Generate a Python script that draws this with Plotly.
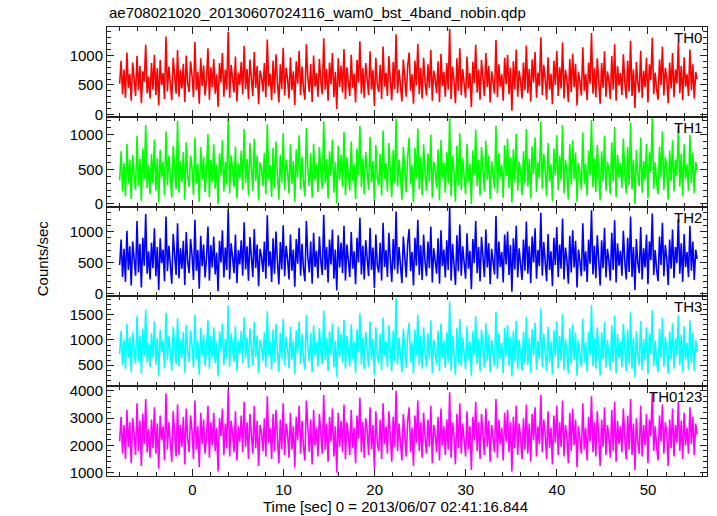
import numpy as np
import plotly.graph_objects as go
from plotly.subplots import make_subplots

TITLE = "ae708021020_20130607024116_wam0_bst_4band_nobin.qdp"
XLABEL = "Time [sec] 0 = 2013/06/07 02:41:16.844"
YLABEL = "Counts/sec"
T_START, T_END = -8.0, 55.4

th0 = [520, 910, 340, 760, 280, 1050, 450, 690, 230, 880, 600, 310, 990, 410, 820, 190, 730, 560, 1180, 360,
       640, 270, 870, 420, 1010, 330, 780, 150, 920, 500, 700, 260, 1320, 390, 810, 470, 240, 960, 580, 350,
       1090, 300, 750, 440, 860, 210, 1000, 530, 380, 900, 660, 290, 1230, 410, 720, 180, 950, 480, 830, 320,
       590, 1120, 250, 800, 460, 940, 350, 680, 130, 870, 540, 1040, 300, 760, 420, 1400, 280, 840, 610, 370,
       980, 220, 710, 500, 890, 340, 1160, 430, 770, 260, 930, 570, 310, 1060, 450, 820, 170, 740, 630, 390,
       870, 290, 1270, 480, 690, 240, 910, 360, 1020, 550, 200, 850, 430, 1130, 320, 790, 600, 270, 970, 410,
       730, 160, 900, 520, 1080, 330, 810, 440, 250, 1190, 620, 380, 860, 210, 1000, 470, 700, 300, 940, 560,
       340, 1290, 420, 770, 230, 880, 510, 1040, 290, 720, 90, 950, 460, 830, 370, 1110, 260, 800, 590, 310,
       1010, 450, 690, 200, 920, 540, 1240, 350, 780, 280, 870, 640, 330, 1070, 420, 750, 140, 960, 500, 380,
       840, 260, 1150, 470, 710, 310, 990, 580, 240, 890, 430, 1360, 360, 760, 520, 220, 930, 610, 300, 820,
       1050, 400, 680, 180, 910, 490, 1200, 340, 790, 270, 960, 550, 320, 850, 450, 1090, 230, 740, 600, 360,
       900, 210, 1030, 480, 720, 300, 870, 420, 1450, 260, 810, 570, 190, 950, 400, 1120, 330, 770, 510, 280,
       980, 440, 700, 120, 890, 530, 1180, 370, 760, 250, 920, 620, 310, 1040, 460, 820, 200, 730, 580, 350,
       1260, 290, 850, 470, 680, 230, 960, 510, 1010, 340, 790, 60, 900, 430, 1100, 300, 740, 560, 270, 880,
       410, 1170, 360, 770, 220, 930, 540, 1060, 280, 710, 480, 1310, 330, 840, 600, 250, 970, 420, 690, 170,
       910, 500, 1080, 310, 800, 440, 1220, 270, 750, 590, 210, 940, 380, 1030, 460, 860, 150, 720, 550, 320,
       1140, 400, 690, 240, 880, 520, 1380, 350, 780, 290, 950, 610, 180, 870, 450, 1070, 300, 730, 570, 260,
       990, 420, 1190, 230, 820, 490, 700, 330, 1020, 560, 270, 910, 390, 1250, 310, 760, 110, 890, 530, 370,
       1080, 280, 740, 460, 960, 200, 850, 580, 1300, 340, 710, 420, 250, 930, 500, 1150, 320, 790, 610, 190,
       880, 440, 1040, 290, 760, 530, 1210, 360, 820, 240, 970, 470, 680, 310, 1100, 410, 850, 270, 720, 600]

th1 = [340, 760, 180, 590, 110, 870, 290, 640, 70, 710, 420, 200, 980, 260, 650, 40, 800, 350, 1140, 230,
       560, 140, 720, 300, 930, 190, 660, 20, 780, 380, 610, 120, 1050, 270, 690, 330, 90, 840, 460, 210,
       1200, 160, 620, 310, 750, 60, 890, 400, 250, 700, 520, 130, 960, 290, 580, 30, 820, 360, 680, 170,
       470, 1010, 100, 640, 320, 860, 220, 570, 0, 730, 410, 920, 180, 610, 280, 1270, 150, 700, 490, 240,
       830, 80, 590, 370, 770, 200, 1080, 300, 650, 120, 880, 440, 190, 940, 330, 690, 50, 600, 510, 260,
       740, 140, 1150, 350, 560, 100, 810, 230, 900, 430, 60, 710, 310, 1020, 200, 640, 480, 150, 860, 290,
       620, 30, 790, 390, 990, 210, 680, 320, 110, 1100, 500, 260, 730, 90, 870, 340, 580, 170, 820, 450,
       220, 1190, 300, 650, 80, 760, 410, 930, 160, 600, 10, 840, 350, 710, 250, 1040, 130, 670, 470, 190,
       900, 330, 570, 70, 800, 420, 1130, 240, 660, 140, 750, 530, 200, 970, 310, 620, 40, 850, 380, 270,
       720, 120, 1060, 360, 590, 180, 880, 460, 100, 780, 300, 1230, 250, 640, 410, 60, 820, 490, 170, 700,
       950, 280, 560, 20, 810, 370, 1090, 210, 680, 130, 860, 440, 190, 730, 320, 1000, 90, 610, 500, 230,
       790, 50, 920, 380, 600, 160, 750, 290, 1260, 110, 690, 450, 30, 840, 270, 1020, 200, 660, 400, 140,
       870, 310, 580, 0, 770, 420, 1070, 260, 640, 120, 820, 510, 180, 910, 350, 700, 70, 620, 460, 220,
       1130, 150, 730, 390, 560, 90, 850, 400, 940, 230, 670, 20, 790, 330, 1010, 190, 610, 480, 130, 760,
       300, 1080, 250, 650, 80, 830, 430, 960, 170, 600, 370, 1190, 220, 720, 500, 110, 880, 320, 570, 40,
       800, 410, 990, 200, 690, 340, 1140, 150, 630, 470, 60, 860, 280, 920, 360, 740, 30, 590, 450, 210,
       1030, 290, 580, 120, 770, 420, 1210, 240, 660, 170, 850, 500, 50, 760, 330, 980, 190, 610, 470, 140,
       890, 320, 1110, 100, 710, 380, 590, 230, 940, 440, 150, 820, 270, 1170, 210, 640, 0, 780, 410, 260,
       960, 160, 620, 350, 870, 80, 750, 460, 1240, 220, 600, 310, 140, 830, 390, 1050, 200, 680, 490, 60,
       770, 330, 920, 180, 640, 420, 1120, 250, 720, 110, 860, 360, 570, 190, 1000, 300, 740, 150, 610, 480]

th2 = [460, 870, 270, 720, 190, 1010, 380, 760, 130, 840, 560, 290, 1170, 340, 800, 100, 900, 450, 1280, 320,
       680, 230, 820, 410, 1050, 280, 750, 60, 890, 490, 710, 200, 1240, 360, 770, 420, 160, 960, 540, 300,
       1130, 250, 730, 400, 850, 140, 990, 510, 330, 880, 620, 220, 1190, 370, 700, 80, 930, 440, 790, 260,
       570, 1080, 210, 780, 420, 920, 310, 660, 40, 850, 500, 1020, 260, 740, 380, 1360, 230, 810, 590, 330,
       950, 170, 700, 470, 860, 290, 1150, 390, 760, 210, 910, 530, 270, 1040, 410, 790, 120, 720, 600, 350,
       840, 240, 1260, 440, 680, 190, 890, 320, 1000, 520, 150, 830, 390, 1100, 280, 770, 560, 230, 950, 370,
       710, 110, 880, 480, 1060, 290, 800, 400, 200, 1170, 590, 340, 840, 160, 980, 430, 690, 250, 920, 520,
       300, 1270, 380, 750, 180, 870, 470, 1030, 240, 710, 50, 940, 420, 820, 330, 1090, 210, 790, 550, 270,
       990, 400, 680, 150, 900, 500, 1220, 310, 770, 230, 860, 600, 280, 1060, 380, 740, 90, 950, 460, 340,
       820, 210, 1140, 430, 700, 270, 980, 540, 190, 880, 390, 1320, 320, 750, 480, 170, 920, 570, 260, 810,
       1040, 360, 670, 130, 900, 450, 1190, 300, 780, 220, 950, 510, 280, 840, 410, 1080, 180, 730, 560, 320,
       890, 160, 1020, 440, 710, 260, 860, 380, 1380, 210, 800, 530, 140, 940, 360, 1110, 290, 760, 470, 240,
       970, 400, 690, 70, 880, 490, 1170, 330, 750, 200, 910, 580, 270, 1030, 420, 810, 150, 720, 540, 310,
       1250, 240, 840, 430, 670, 180, 950, 470, 1000, 300, 780, 30, 890, 390, 1090, 260, 730, 520, 220, 870,
       370, 1160, 320, 760, 170, 920, 500, 1050, 240, 700, 440, 1300, 290, 830, 560, 200, 960, 380, 680, 120,
       900, 460, 1070, 270, 790, 400, 1210, 230, 740, 550, 160, 930, 340, 1020, 420, 850, 100, 710, 510, 280,
       1130, 360, 680, 190, 870, 480, 1340, 310, 770, 250, 940, 570, 130, 860, 410, 1060, 260, 720, 530, 210,
       980, 380, 1180, 180, 810, 450, 690, 290, 1010, 520, 230, 900, 350, 1240, 270, 750, 60, 880, 490, 330,
       1070, 230, 730, 420, 950, 150, 840, 540, 1290, 300, 700, 380, 200, 920, 460, 1140, 280, 780, 570, 140,
       870, 400, 1030, 250, 750, 490, 1200, 320, 810, 190, 960, 430, 670, 270, 1090, 370, 840, 220, 710, 560]

th3 = [720, 1180, 500, 1010, 420, 1320, 640, 1060, 360, 1150, 820, 530, 1470, 580, 1090, 330, 1220, 690, 1600, 550,
       940, 460, 1130, 650, 1370, 510, 1040, 290, 1200, 760, 990, 440, 1540, 600, 1070, 670, 390, 1260, 810, 520,
       1430, 480, 1010, 640, 1160, 350, 1300, 780, 560, 1190, 900, 450, 1500, 620, 980, 310, 1240, 700, 1100, 490,
       840, 1390, 430, 1080, 660, 1250, 540, 950, 280, 1170, 770, 1330, 500, 1020, 630, 1680, 470, 1120, 870, 570,
       1270, 390, 990, 730, 1180, 530, 1450, 640, 1050, 440, 1230, 810, 500, 1360, 660, 1090, 340, 1000, 880, 590,
       1150, 460, 1570, 700, 960, 410, 1210, 560, 1320, 790, 370, 1140, 620, 1420, 500, 1060, 830, 440, 1260, 610,
       990, 320, 1190, 740, 1370, 520, 1110, 640, 420, 1490, 850, 570, 1140, 360, 1290, 680, 970, 470, 1230, 780,
       520, 1580, 610, 1040, 390, 1170, 720, 1330, 460, 990, 270, 1260, 650, 1120, 550, 1400, 430, 1080, 820, 480,
       1310, 630, 960, 350, 1210, 760, 1530, 510, 1060, 420, 1160, 880, 470, 1370, 600, 1020, 300, 1250, 700, 540,
       1120, 400, 1440, 680, 980, 470, 1290, 800, 380, 1180, 590, 1830, 520, 1040, 710, 360, 1220, 840, 450, 1100,
       1340, 560, 950, 330, 1200, 700, 1500, 500, 1080, 430, 1250, 750, 470, 1130, 620, 1390, 340, 1010, 800, 510,
       1180, 380, 1330, 650, 990, 440, 1150, 560, 1760, 400, 1090, 770, 310, 1240, 540, 1420, 480, 1050, 690, 420,
       1270, 610, 970, 290, 1170, 720, 1470, 520, 1030, 380, 1200, 830, 450, 1330, 590, 1100, 360, 1000, 760, 480,
       1560, 430, 1130, 640, 940, 340, 1240, 690, 1300, 490, 1070, 280, 1180, 580, 1380, 420, 1010, 740, 390, 1160,
       540, 1460, 500, 1040, 350, 1210, 700, 1340, 410, 980, 620, 1620, 460, 1120, 790, 380, 1260, 560, 960, 310,
       1190, 680, 1370, 440, 1080, 590, 1510, 400, 1020, 760, 330, 1230, 520, 1310, 610, 1140, 290, 990, 730, 470,
       1420, 550, 960, 360, 1160, 700, 1690, 480, 1050, 430, 1250, 790, 300, 1150, 620, 1360, 450, 1000, 750, 400,
       1290, 560, 1480, 340, 1110, 640, 970, 460, 1320, 710, 380, 1200, 520, 1550, 430, 1040, 270, 1170, 690, 500,
       1380, 410, 1020, 600, 1250, 320, 1130, 740, 1590, 480, 990, 560, 370, 1220, 650, 1440, 470, 1060, 790, 330,
       1170, 620, 1340, 430, 1030, 690, 1490, 500, 1100, 360, 1270, 600, 940, 420, 1390, 540, 1140, 390, 1000, 760]

th0123 = [2150, 3050, 1700, 2750, 1500, 3300, 1950, 2850, 1350, 3000, 2400, 1650, 3550, 1800, 2900, 1250, 3150, 2050, 3700, 1750,
          2600, 1550, 2950, 1900, 3400, 1700, 2800, 1150, 3100, 2200, 2700, 1450, 3900, 1850, 2850, 2000, 1400, 3250, 2350, 1600,
          3500, 1650, 2750, 1950, 3050, 1300, 3350, 2250, 1750, 3100, 2550, 1500, 3650, 1850, 2700, 1200, 3200, 2050, 2950, 1700,
          2300, 3450, 1550, 2850, 2000, 3200, 1800, 2650, 1050, 3000, 2350, 3350, 1650, 2800, 1900, 4050, 1600, 2900, 2450, 1750,
          3250, 1450, 2700, 2150, 3100, 1750, 3600, 1950, 2850, 1500, 3150, 2400, 1700, 3450, 1900, 2900, 1250, 2750, 2500, 1800,
          3000, 1600, 3800, 2100, 2650, 1500, 3150, 1800, 3300, 2300, 1350, 2950, 1850, 3550, 1650, 2800, 2450, 1550, 3200, 1850,
          2700, 1200, 3050, 2200, 3450, 1700, 2900, 1950, 1450, 3650, 2500, 1750, 2950, 1300, 3300, 2000, 2650, 1600, 3150, 2350,
          1700, 3850, 1850, 2800, 1400, 3050, 2150, 3350, 1600, 2700, 1000, 3200, 1950, 2900, 1750, 3500, 1500, 2850, 2400, 1650,
          3300, 1900, 2650, 1350, 3100, 2250, 3750, 1750, 2850, 1550, 3000, 2550, 1650, 3400, 1850, 2750, 1150, 3250, 2100, 1800,
          2950, 1500, 3550, 2050, 2700, 1700, 3250, 2350, 1400, 3050, 1950, 4000, 1800, 2800, 2150, 1450, 3150, 2450, 1600, 2900,
          3400, 1750, 2650, 1250, 3100, 2100, 3650, 1800, 2850, 1550, 3200, 2300, 1700, 2950, 1950, 3450, 1350, 2750, 2400, 1750,
          3050, 1450, 3350, 2000, 2700, 1650, 2950, 1850, 3950, 1550, 2850, 2350, 1300, 3150, 1900, 3550, 1700, 2800, 2150, 1600,
          3250, 1850, 2700, 1100, 3050, 2200, 3600, 1800, 2850, 1500, 3150, 2450, 1650, 3350, 1950, 2900, 1400, 2750, 2350, 1750,
          3700, 1550, 2950, 2050, 2650, 1450, 3200, 2150, 3300, 1750, 2850, 1050, 3050, 1900, 3450, 1650, 2800, 2300, 1500, 3000,
          1850, 3500, 1700, 2800, 1400, 3150, 2200, 3400, 1600, 2700, 2050, 3850, 1750, 2950, 2400, 1500, 3250, 1900, 2650, 1300,
          3100, 2100, 3450, 1650, 2850, 1950, 3650, 1600, 2750, 2300, 1350, 3200, 1800, 3350, 2000, 2950, 1200, 2700, 2250, 1700,
          3550, 1850, 2650, 1450, 3050, 2150, 3800, 1750, 2850, 1600, 3250, 2400, 1250, 2950, 1950, 3400, 1650, 2750, 2300, 1550,
          3300, 1800, 3600, 1400, 2900, 2050, 2700, 1750, 3350, 2250, 1500, 3100, 1850, 3700, 1650, 2800, 1100, 3000, 2100, 1700,
          3450, 1600, 2750, 2000, 3150, 1350, 2950, 2350, 3900, 1800, 2700, 1950, 1450, 3100, 2150, 3500, 1700, 2850, 2450, 1250,
          2950, 1900, 3350, 1600, 2750, 2100, 3600, 1800, 2900, 1500, 3200, 2000, 2650, 1700, 3400, 2050, 3050, 1650, 2800, 2400]

names = ["TH0", "TH1", "TH2", "TH3", "TH0123"]
series = [th0, th1, th2, th3, th0123]
colors = ["#ff0000", "#00ff00", "#0000ff", "#00ffff", "#ff00ff"]
yranges = [[-42, 1483], [-39, 1258], [-44, 1400], [85, 1862], [880, 4172]]
ydticks = [500, 500, 500, 500, 1000]
yminor = [100, 100, 100, 100, 200]

FONT = "Liberation Sans, Arial, Helvetica, sans-serif"
AXC = "#222222"

fig = make_subplots(rows=5, cols=1, shared_xaxes=True, vertical_spacing=0)

for i, (nm, vals, col) in enumerate(zip(names, series, colors)):
    t = np.linspace(T_START, T_END, len(vals))
    fig.add_trace(go.Scatter(x=t, y=vals, mode="lines", line=dict(color=col, width=1.6),
                             name=nm, showlegend=False), row=i + 1, col=1)
    fig.update_yaxes(range=yranges[i], dtick=ydticks[i], tick0=0, row=i + 1, col=1,
                     showline=True, linecolor=AXC, linewidth=1, mirror="ticks",
                     ticks="inside", ticklen=7, tickcolor=AXC, showgrid=False, zeroline=False,
                     tickfont=dict(family=FONT, size=15, color="black"),
                     minor=dict(ticks="inside", ticklen=4, dtick=yminor[i], tick0=0, tickcolor=AXC))
    fig.update_xaxes(range=[-9.39, 56.48], dtick=10, tick0=0, row=i + 1, col=1,
                     showline=True, linecolor=AXC, linewidth=1, mirror="ticks",
                     ticks="inside", ticklen=7, tickcolor=AXC, showgrid=False, zeroline=False,
                     showticklabels=(i == 4),
                     tickfont=dict(family=FONT, size=15, color="black"),
                     minor=dict(ticks="inside", ticklen=4, dtick=2, tick0=0, tickcolor=AXC))
    yref = "y domain" if i == 0 else f"y{i + 1} domain"
    fig.add_annotation(text=nm, xref="paper", x=1, xanchor="right", xshift=-3,
                       yref=yref, y=1, yanchor="top", yshift=0, showarrow=False,
                       font=dict(family=FONT, size=15, color="black"))

fig.add_annotation(text=TITLE, xref="paper", x=0, xanchor="left", yref="paper", y=1,
                   yanchor="bottom", yshift=4, showarrow=False,
                   font=dict(family=FONT, size=15, color="black"))
fig.add_annotation(text=XLABEL, xref="paper", x=0.48, xanchor="center", yref="paper", y=0,
                   yanchor="top", yshift=-20, showarrow=False,
                   font=dict(family=FONT, size=15, color="black"))
fig.add_annotation(text=YLABEL, xref="paper", x=0, xanchor="center", xshift=-65, yref="paper", y=0.485,
                   yanchor="middle", textangle=-90, showarrow=False,
                   font=dict(family=FONT, size=15, color="black"))

fig.update_layout(width=717, height=516, margin=dict(l=107, r=10, t=27, b=40),
                  paper_bgcolor="white", plot_bgcolor="white",
                  font=dict(family=FONT, size=15, color="black"))

fig.write_html("out.html", config={"displayModeBar": False},
               post_script="document.body.style.margin='0px';")
